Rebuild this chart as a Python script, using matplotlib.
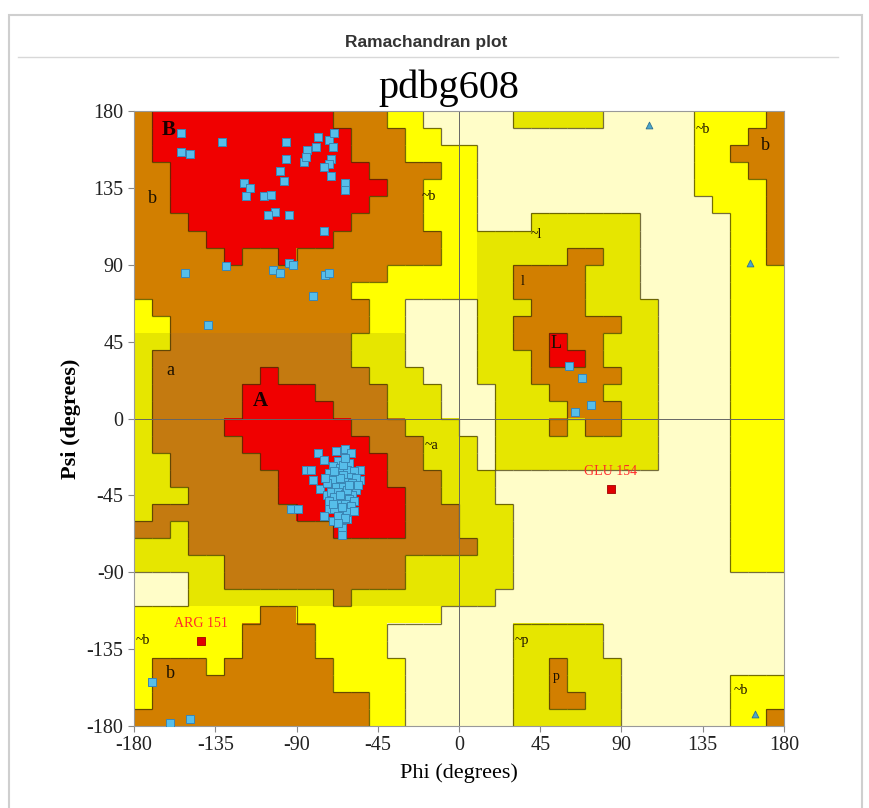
import numpy as np
import matplotlib
matplotlib.use('Agg')
from matplotlib import pyplot as plt
from matplotlib.colors import ListedColormap
from matplotlib.collections import LineCollection
from matplotlib.patches import Rectangle

plt.rcParams['font.family'] = ['Liberation Serif', 'DejaVu Serif']
plt.rcParams['axes.unicode_minus'] = False

# region map on a 10 degree grid: first row is psi 170..180, first column phi -180..-170
# R core, A/B allowed (alpha/beta), G/Y generous, . disallowed
region_rows = [
    "BRRRRRRRRRRBBBYY.....GGGGG.....YYYYB",
    "BRRRRRRRRRRRBBBYY..............YYYBB",
    "BRRRRRRRRRRRBBBYYYY............YYBBB",
    "BBRRRRRRRRRRRBBBBYY............YYYBB",
    "BBRRRRRRRRRRRRBBYYY............YYYYB",
    "BBRRRRRRRRRRRBBBYYY.............YYYB",
    "BBBRRRRRRRRRBBBBYYY...GGGGGG.....YYB",
    "BBBBRRRRRRRBBBBBBYYGGGGGGGGG.....YYB",
    "BBBBBRBBRBBBBBBBBYYGGGGGBBGG.....YYB",
    "BBBBBBBBBBBBBBYYYYYGGBBBBGGG.....YYY",
    "BBBBBBBBBBBBYYYYYYYGGBBBBGGG.....YYY",
    "YBBBBBBBBBBBBYY....GGGBBBGGGG....YYY",
    "YYBBBBBBBBBBBYY....GGBBBBBBGG....YYY",
    "GGAAAAAAAAAAGGG....GGBBRBBGGG....YYY",
    "GAAAAAAAAAAAGGG....GGGBRRBGGG....YYY",
    "GAAAAAARAAAAAGGG...GGGBBBBBGG....YYY",
    "GAAAAARRRRAAAAGGG...GGGBBBGGG....YYY",
    "GAAAAARRRRRAAAGGG...GGGGBBBGG....YYY",
    "GAAAARRRRRRRAAAGGG..GGGBGBBGG....YYY",
    "GAAAAARRRRRRRAAAGGG.GGGGGGGGG....YYY",
    "GGAAAAARRRRRRRAAGGG.GGGGGGGGG....YYY",
    "GGAAAAAARRRRRRAAAGGG.............YYY",
    "GGGAAAAARRRRRRRAAGGG.............YYY",
    "GAAAAAAAARRRRRRAAAGGG............YYY",
    "AAGAAAAAAAARRRRAAAGGG............YYY",
    "GGGAAAAAAAAAAAAAAAAGG............YYY",
    "GGGGGAAAAAAAAAAGGGGGG............YYY",
    "...GGAAAAAAAAAAGGGGGG...............",
    "...GGGGGGGGAGGGGGGGG................",
    "YYYYYYYBBYYYYYYYY...................",
    "YYYYYYBBBBYYYY.......GGGGG..........",
    "YYYYYYBBBBYYYY.......GGGGG..........",
    "YBBBYBBBBBBYYYY......GGBGGG.........",
    "YBBBBBBBBBBYYYY......GGBGGG......YYY",
    "YBBBBBBBBBBBBYY......GGBBGG......YYY",
    "BBBBBBBBBBBBBYY......GGGGGG......YYB",
]
region_codes = ".GYABR"
region_colors = ["#FFFDC8", "#E6E600", "#FFFF00", "#C47A10", "#D27F00", "#F00000"]
region_level = {".": 0, "G": 1, "Y": 1, "A": 2, "B": 2, "R": 3}

# residues (phi, psi)
core_phi = [-154, -131, -154, -149, -96, -96, -99, -97, -78, -72, -69, -70, -79, -84, -86, -85,
            -71, -72, -75, -71, -63, -63, -119, -116, -118, -108, -104, -102, -106, -94, -75,
            -129, -152, -103, -99, -94, -92, -74, -72, -81, -139,
            -78, -68, -63, -60, -75, -85, -82, -81, -67, -61, -55, -55, -77, -73, -93, -89, -72,
            -75, -70, -62, -65, -65, -70, -66, -62, -58, -72, -68, -64, -60, -57, -70, -66, -62,
            -59, -73, -68, -64, -60, -57, -71, -67, -63, -59, -69, -65, -61, -58, -72, -67, -63,
            -60, -69, -65, -62, -67, -63, -66, -62, -66, -64, -69, -61, -65, -58, -70, -74, -56,
            -63, -67,
            61, 68, 73, 64,
            -170, -160, -149]
core_psi = [167, 162, 156, 155, 162, 152, 145, 139, 165, 163, 167, 159, 159, 157, 150, 153,
            152, 149, 147, 142, 138, 134, 138, 135, 130, 130, 131, 121, 119, 119, 110,
            89, 85, 87, 85, 91, 90, 84, 85, 72, 55,
            -20, -19, -18, -20, -24, -30, -30, -36, -25, -26, -30, -36, -41, -45, -53, -53, -53,
            -57, -60, -59, -64, -68, -28, -29, -30, -31, -32, -33, -33, -34, -35, -36, -37, -37,
            -38, -38, -40, -40, -41, -42, -43, -43, -44, -45, -46, -47, -47, -48, -48, -50, -50,
            -51, -53, -54, -55, -57, -58, -35, -42, -45, -27, -31, -39, -52, -54, -50, -35, -39,
            -23, -61,
            31, 24, 8, 4,
            -154, -178, -176]
gly_phi = [105, 161, 164]
gly_psi = [172, 91, -173]
outlier_names = ["ARG 151", "GLU 154"]
outlier_phi = [-143, 84]
outlier_psi = [-130, -41]

region_labels = ["B", "b", "a", "A", "~b", "~a", "~l", "l", "L", "~p", "p", "~b", "b", "~b", "b", "~b"]
label_phi = [-161, -170, -160, -110, -17, -15, 43, 35, 54, 35, 54, 135, 170, -175, -160, 156]
label_psi = [169, 129, 28, 10, 130, -16, 108, 80, 44, -130, -151, 169, 160, -130, -149, -159]

grid = np.array([[region_codes.index(ch) for ch in row] for row in region_rows])

fig = plt.figure(figsize=(8.7, 8.08), dpi=100)
fig.patch.set_facecolor('white')

# card frame and header
fig.add_artist(Rectangle((9 / 870, -0.01), 853 / 870, 1 - 15 / 808 + 0.01, transform=fig.transFigure,
                         fill=False, edgecolor='#cfcfcf', lw=1.5))
fig.add_artist(plt.Line2D([18 / 870, 838 / 870], [1 - 57 / 808, 1 - 57 / 808], transform=fig.transFigure,
                          color='#d8d8d8', lw=1))
fig.text(426 / 870, 1 - 43 / 808, 'Ramachandran plot', ha='center', va='center', fontsize=12.5,
         fontweight='bold', family='Liberation Sans', color='#333333')
fig.text(449 / 870, 1 - 88 / 808, 'pdbg608', ha='center', va='center', fontsize=29)

ax = fig.add_axes([134 / 870, 1 - 726 / 808, 650 / 870, 615 / 808])
ax.imshow(grid, cmap=ListedColormap(region_colors), vmin=-0.5, vmax=len(region_codes) - 0.5,
          extent=[-180, 180, -180, 180], origin='upper', interpolation='nearest', aspect='auto')

# dark edges between region levels
segs = []
nr, nc = grid.shape
for r in range(nr):
    for c in range(nc):
        lv = region_level[region_rows[r][c]]
        if c + 1 < nc and region_level[region_rows[r][c + 1]] != lv:
            x = -170 + 10 * c
            segs.append([(x, 170 - 10 * r), (x, 180 - 10 * r)])
        if r + 1 < nr and region_level[region_rows[r + 1][c]] != lv:
            y = 170 - 10 * r
            segs.append([(-180 + 10 * c, y), (-170 + 10 * c, y)])
ax.add_collection(LineCollection(segs, colors='#3a3200', linewidths=0.9, alpha=0.7))

ax.axhline(0, color='#666666', lw=0.7)
ax.axvline(0, color='#666666', lw=0.7)

for t, x, y in zip(region_labels, label_phi, label_psi):
    if t in ('A', 'B'):
        ax.text(x, y, t, fontsize=15, fontweight='bold', ha='center', va='center', color='#1a0000')
    elif t in ('a', 'b', 'L'):
        ax.text(x, y, t, fontsize=13, ha='center', va='center', color='#1a1000')
    else:
        ax.text(x, y, t, fontsize=10, ha='center', va='center', color='#1a1000')

ax.scatter(core_phi, core_psi, marker='s', s=30, facecolor='#56BEEA', edgecolor='#3A86B5',
           linewidths=0.7, zorder=5)
ax.scatter(gly_phi, gly_psi, marker='^', s=24, facecolor='#4AA6CC', edgecolor='#2F7090',
           linewidths=0.6, zorder=5)
ax.scatter(outlier_phi, outlier_psi, marker='s', s=28, facecolor='#E00000', edgecolor='#A00000',
           linewidths=0.6, zorder=5)
for name, x, y in zip(outlier_names, outlier_phi, outlier_psi):
    ax.text(x, y + 6, name, fontsize=10, color='#FF2A2A', ha='center', va='bottom', zorder=6)

ax.set_xlim(-180, 180)
ax.set_ylim(-180, 180)
ax.set_xticks(np.arange(-180, 181, 45))
ax.set_yticks(np.arange(-180, 181, 45))
ax.tick_params(labelsize=14.5, length=4, color='#888888', labelcolor='#222222')
for s in ax.spines.values():
    s.set_color('#999999')
    s.set_linewidth(0.8)
ax.set_xlabel('Phi (degrees)', fontsize=16, labelpad=6)
ax.set_ylabel('Psi (degrees)', fontsize=16, fontweight='bold', labelpad=4)

plt.savefig('out.png', dpi=100)
